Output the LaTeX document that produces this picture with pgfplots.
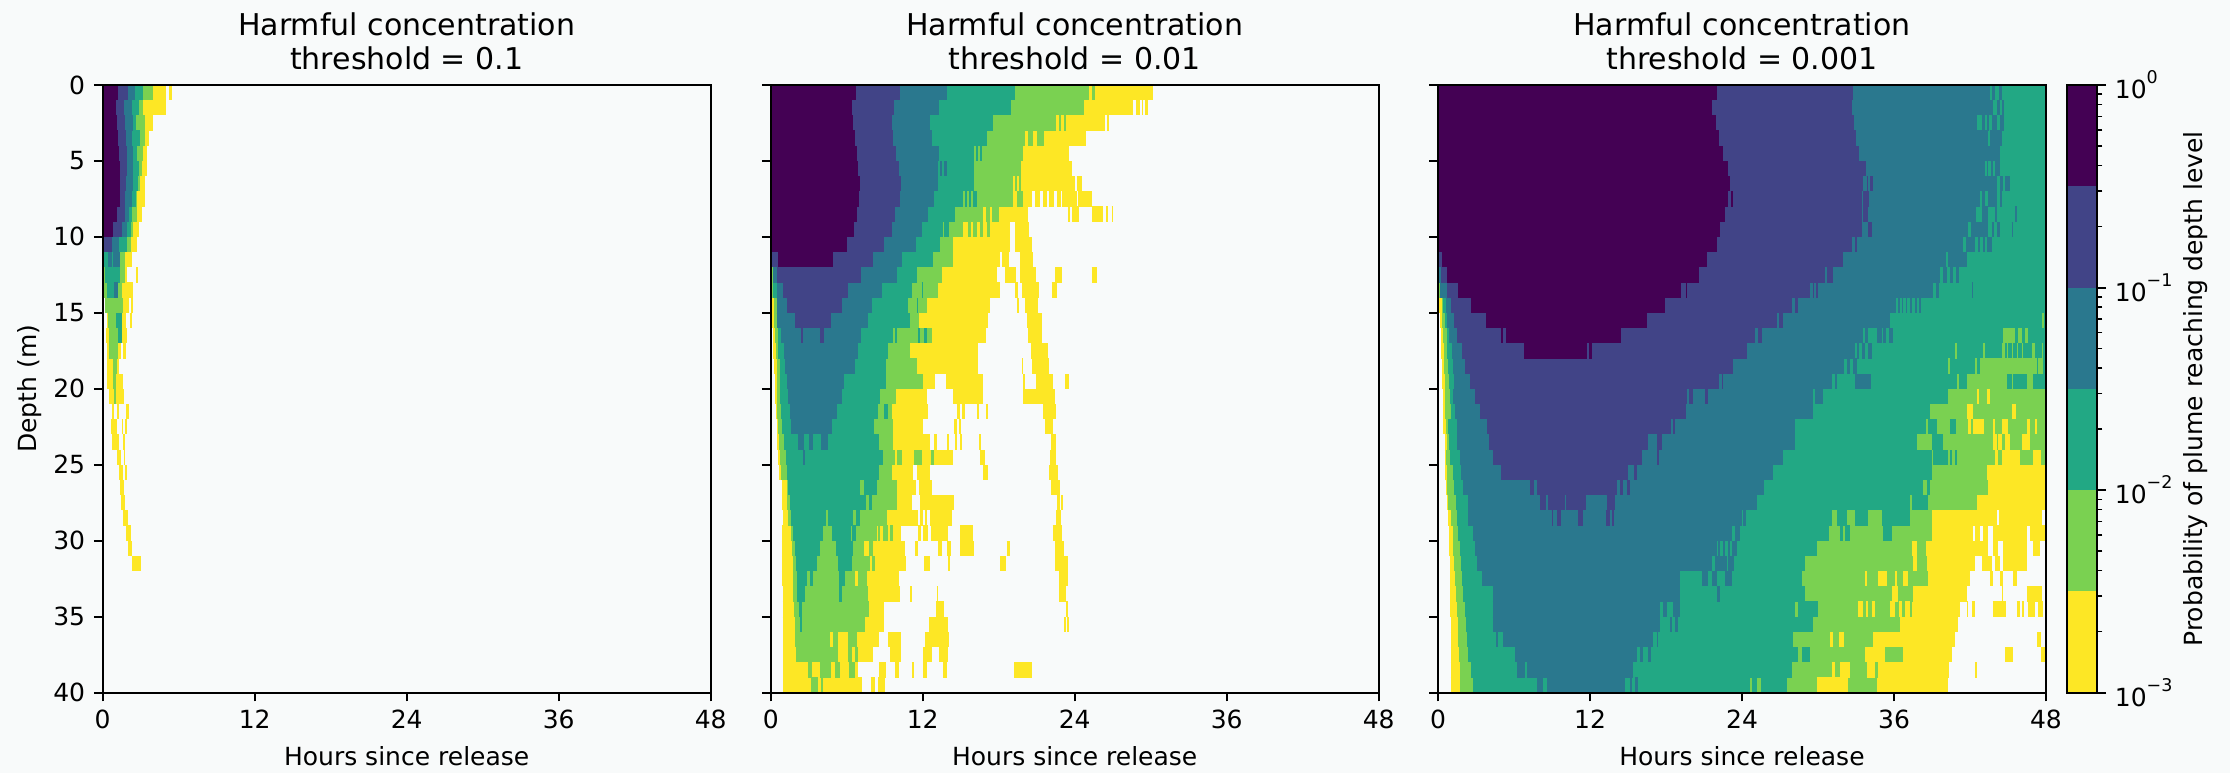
\documentclass[border=0pt]{standalone}
\usepackage{fontspec}
\setmainfont{DejaVu Sans}
\usepackage{pgfplots}
\pgfplotsset{compat=1.18}
\definecolor{bg}{HTML}{F8FAFA}
\definecolor{cP}{HTML}{440154}
\definecolor{cI}{HTML}{414487}
\definecolor{cT}{HTML}{2A788E}
\definecolor{cM}{HTML}{22A884}
\definecolor{cG}{HTML}{7AD151}
\definecolor{cY}{HTML}{FDE725}
\pgfplotsset{
  /pgfplots/table/seg/.style={row sep=\\, header=false, x index=1, y index=0, x error expr=\thisrowno{2}-\thisrowno{1}},
  lev/.style={draw=none, mark=none, forget plot, error bars/.cd, x dir=plus, x explicit, error mark=none, error bar style={line width=6.15pt, color=#1, solid}},
  base/.style={
    scale only axis, width=243.2pt, height=243.1pt, anchor=south west,
    axis on top, xmin=0, xmax=48, ymin=0, ymax=40, y dir=reverse,
    xtick={0,12,24,36,48}, ytick={0,5,...,40},
    xtick pos=lower, ytick pos=left, tick align=outside,
    major tick length=3.5pt, every tick/.style={black, line width=0.8pt},
    axis line style={line width=0.8pt},
    /pgf/number format/assume math mode=true,
    xlabel={Hours since release},
    xlabel style={font=\fontsize{10}{12}\selectfont, at={(axis description cs:0.5,-0.119)}, anchor=base},
    title style={font=\fontsize{12}{13.6}\selectfont, align=center, at={(axis description cs:0.5,1)}, anchor=south, inner sep=0pt, yshift=0pt},
  }
}
\begin{document}
\begin{tikzpicture}
\fill[bg] (0,0) rectangle (892pt,309.2pt);
\useasboundingbox (0,0) rectangle (892pt,309.2pt);
% ------------------------------------------------ threshold 0.1
\begin{axis}[base, at={(41.08pt,32.12pt)}, title={Harmful concentration\\threshold = 0.1},
  ylabel={Depth (m)}, ylabel style={font=\fontsize{10}{12}\selectfont, at={(axis description cs:-0.1097,0.5)}, anchor=base}]
\addplot[lev=cY] table[seg]{
0.5 0 5\\ 0.5 5.26 5.45\\ 1.5 0 5\\ 2.5 0 4\\ 3.5 0 3.66\\ 4.5 0 3.53\\ 5.5 0 3.53\\ 6.5 0 3.34\\ 7.5 0 3.34\\ 8.5 0 3.08\\ 9.5 0 2.87\\
10.5 0.05 2.68\\ 11.5 0.1 2.34\\ 12.5 0.15 1.9\\ 12.5 2.63 2.79\\ 13.5 0.13 2.42\\ 14.5 0.2 2.1\\ 14.5 2.21 2.42\\ 15.5 0.32 1.84\\ 15.5 2.16 2.34\\ 16.5 0.26 1.95\\
17.5 0.32 1.42\\ 17.5 1.63 1.84\\ 18.5 0.32 1.26\\ 19.5 0.32 1.58\\ 20.5 0.53 1.71\\ 21.5 0.71 0.89\\ 21.5 1.11 1.32\\ 21.5 1.84 2.05\\
22.5 0.63 1.11\\ 22.5 1.5 1.63\\ 22.5 1.76 1.95\\ 23.5 0.76 1.32\\ 23.5 1.58 1.74\\ 24.5 1.16 1.45\\ 24.5 1.71 1.79\\ 25.5 1.32 1.58\\ 25.5 1.79 1.95\\
26.5 1.37 1.71\\ 27.5 1.45 1.76\\ 28.5 1.58 2.03\\ 29.5 1.84 2.21\\ 30.5 2 2.34\\ 31.5 2.34 3\\
};
\addplot[lev=cG] table[seg]{
0.5 0 4\\ 1.5 0 3.21\\ 2.5 0 3.34\\ 3.5 0 3.34\\ 4.5 0 3.16\\ 5.5 0 3.08\\ 6.5 0 2.95\\ 7.5 0 2.74\\ 8.5 0 2.74\\ 9.5 0 2.42\\ 10.5 0 2.21\\
11.5 0.05 1.76\\ 12.5 0.13 1.76\\ 13.5 0.13 1.5\\ 14.5 0.21 1.63\\ 15.5 0.45 1.5\\ 16.5 0.53 1.5\\ 17.5 0.53 1.24\\ 18.5 0.84 1.11\\ 19.5 0.84 1.05\\ 20.5 0.89 1.05\\
};
\addplot[lev=cM] table[seg]{
0.5 0 3.21\\ 1.5 0 2.89\\ 2.5 0 2.63\\ 3.5 0 2.95\\ 4.5 0 2.74\\ 5.5 0 2.89\\ 6.5 0 2.82\\ 7.5 0 2.63\\ 8.5 0 2.29\\ 9.5 0 2.21\\ 10.5 0 1.89\\
11.5 0.1 1.37\\ 12.5 0.18 1.37\\ 13.5 0.32 1.24\\ 15.5 1.05 1.5\\ 16.5 1.24 1.5\\
};
\addplot[lev=cT] table[seg]{
0.5 0 2.55\\ 1.5 0 2.29\\ 2.5 0 2.37\\ 3.5 0 2.34\\ 4.5 0 2.42\\ 5.5 0 2.37\\ 6.5 0 2.37\\ 7.5 0 2.29\\ 8.5 0 2.11\\ 9.5 0 1.89\\ 10.5 0 1.32\\
11.5 0.45 0.71\\ 11.5 0.84 1.37\\ 13.5 0.89 1.24\\
};
\addplot[lev=cI] table[seg]{
0.5 0 1.97\\ 1.5 0 1.68\\ 2.5 0 1.76\\ 3.5 0 1.82\\ 4.5 0 1.89\\ 5.5 0 1.89\\ 6.5 0 1.84\\ 7.5 0 1.76\\ 8.5 0 1.76\\ 9.5 0 1.5\\ 10.5 0.05 0.76\\
};
\addplot[lev=cP] table[seg]{
0.5 0 1.24\\ 1.5 0 1.05\\ 2.5 0 1.11\\ 3.5 0 1.18\\ 4.5 0 1.29\\ 5.5 0 1.37\\ 6.5 0 1.37\\ 7.5 0 1.37\\ 8.5 0 1.11\\ 9.5 0 0.84\\
};
\end{axis}
% ------------------------------------------------ threshold 0.01
\begin{axis}[base, at={(308.28pt,32.12pt)}, title={Harmful concentration\\threshold = 0.01}, yticklabels={}]
\addplot[lev=cY] table[seg]{
0.5 0 30.21\\ 1.5 0 28.63\\ 1.5 28.84 29.16\\ 1.5 29.29 29.42\\ 1.5 29.55 29.82\\ 2.5 0 26.39\\ 2.5 26.53 26.71\\ 3.5 0 24.89\\ 4.5 0 23.58\\ 5.5 0 23.76\\
6.5 0 24.03\\ 6.5 24.16 24.55\\ 7.5 0 20.6\\ 7.5 20.87 21.26\\ 7.5 21.53 21.84\\ 7.5 21.97 22.37\\ 7.5 22.58 22.89\\ 7.5 22.97 24.16\\ 7.5 24.29 25.34\\
8.5 0 20.34\\ 8.5 23.5 23.63\\ 8.5 23.76 24.37\\ 8.5 25.34 26.21\\ 8.5 26.47 26.61\\ 8.5 26.92 27.05\\ 9.5 0 18.89\\ 9.5 19.29 20.42\\ 10.5 0 18.89\\ 10.5 19.29 20.6\\
11.5 0 18.11\\ 11.5 18.24 18.84\\ 11.5 19.68 20.74\\ 12.5 0 17.89\\ 12.5 18.5 19.37\\ 12.5 19.68 20.95\\ 12.5 22.45 22.97\\ 12.5 25.34 25.74\\
13.5 0 18.11\\ 13.5 19.29 19.55\\ 13.5 19.82 21.21\\ 13.5 22.18 22.63\\ 14.5 0.11 17.32\\ 14.5 19.47 19.58\\ 14.5 20.08 21.13\\ 15.5 0.11 17.18\\ 15.5 20.21 21.39\\
16.5 0.16 17\\ 16.5 20.34 21.39\\ 17.5 0.21 16.39\\ 17.5 20.53 21.92\\ 18.5 0.26 16.39\\ 18.5 19.82 19.95\\ 18.5 20.66 22\\
19.5 0.32 12.97\\ 19.5 13.84 16.74\\ 19.5 19.95 20.08\\ 19.5 20.95 22.32\\ 19.5 23.24 23.58\\ 20.5 0.37 12.32\\ 20.5 14.42 16.79\\ 20.5 19.95 22.45\\
21.5 0.42 12.39\\ 21.5 14.68 14.95\\ 21.5 15.08 15.34\\ 21.5 16.26 16.45\\ 21.5 16.97 17.18\\ 21.5 21.53 22.53\\
22.5 0.47 12.05\\ 22.5 14.47 14.74\\ 22.5 14.89 15.05\\ 22.5 21.66 22.32\\
23.5 0.53 12.58\\ 23.5 12.89 13.16\\ 23.5 13.95 14.11\\ 23.5 14.55 14.74\\ 23.5 14.95 15.11\\ 23.5 16.47 16.61\\ 23.5 22.11 22.53\\
24.5 0.61 14.37\\ 24.5 16.53 16.95\\ 24.5 22.05 22.53\\ 25.5 0.68 11.26\\ 25.5 11.58 12.58\\ 25.5 16.79 17.18\\ 25.5 22 22.71\\
26.5 0.87 11.47\\ 26.5 11.74 12.74\\ 26.5 22.13 22.84\\ 27.5 0.89 11.13\\ 27.5 11.79 14.47\\ 27.5 22.58 22.84\\ 27.5 22.92 23.11\\
28.5 0.95 11.66\\ 28.5 11.79 12.05\\ 28.5 12.18 12.32\\ 28.5 12.58 14.29\\ 28.5 22.53 22.89\\
29.5 0.89 10.26\\ 29.5 11.66 11.84\\ 29.5 12.05 12.45\\ 29.5 12.66 13.97\\ 29.5 14.95 15.95\\ 29.5 22.26 22.97\\
30.5 0.89 10.61\\ 30.5 11.39 11.61\\ 30.5 13.24 13.5\\ 30.5 13.95 14.24\\ 30.5 14.95 16.05\\ 30.5 18.63 18.89\\ 30.5 22.45 23.16\\
31.5 0.89 10.68\\ 31.5 12.13 12.58\\ 31.5 13.97 14.16\\ 31.5 18.11 18.55\\ 31.5 22.45 23.5\\ 32.5 0.89 10.13\\ 32.5 22.79 23.5\\
33.5 0.95 10.21\\ 33.5 11 11.18\\ 33.5 13.11 13.24\\ 33.5 22.79 23.29\\ 34.5 0.95 8.95\\ 34.5 13.03 13.68\\ 34.5 23.32 23.5\\
35.5 0.95 8.95\\ 35.5 12.5 14.03\\ 35.5 23.18 23.32\\ 35.5 23.39 23.58\\ 36.5 1 8.58\\ 36.5 9.29 10.29\\ 36.5 12.18 14.08\\
37.5 1 8.11\\ 37.5 9.42 10.29\\ 37.5 12.05 12.76\\ 37.5 13.32 14\\ 38.5 1 6.92\\ 38.5 8.58 9.11\\ 38.5 9.82 10.13\\ 38.5 11.13 11.32\\ 38.5 12.05 12.32\\ 38.5 13.63 13.89\\ 38.5 19.21 20.6\\
39.5 1 7.18\\ 39.5 7.89 8.24\\ 39.5 8.5 9.03\\
};
\addplot[lev=cG] table[seg]{
0.5 0 25.13\\ 0.5 25.39 25.61\\ 1.5 0 24.74\\ 2.5 0 22.53\\ 2.5 22.76 22.92\\ 2.5 23.16 23.29\\ 3.5 0 20.08\\ 3.5 20.34 20.68\\ 3.5 21 21.58\\ 4.5 0 19.95\\ 5.5 0 19.74\\
6.5 0 19.16\\ 6.5 19.32 19.45\\ 6.5 19.63 19.74\\ 7.5 0 19.16\\ 7.5 19.42 19.95\\ 8.5 0 16.79\\ 8.5 16.97 17.32\\ 8.5 17.5 18\\
9.5 0 15.21\\ 9.5 15.61 15.79\\ 9.5 16 16.26\\ 9.5 16.53 16.79\\ 9.5 17.05 17.32\\ 10.5 0 14.37\\ 11.5 0 14.37\\ 12.5 0.08 13.5\\ 13.5 0.13 13.24\\
14.5 0.26 12.32\\ 15.5 0.26 11.74\\ 16.5 0.34 12.71\\ 17.5 0.42 11\\ 18.5 0.47 11.53\\ 19.5 0.47 12.05\\ 20.5 0.47 9.89\\ 21.5 0.53 9.55\\ 22.5 0.61 9.63\\ 23.5 0.68 9.68\\
24.5 0.74 9.82\\ 24.5 10 10.39\\ 24.5 11.32 11.97\\ 24.5 12.63 12.89\\ 25.5 0.79 9.55\\ 26.5 1.32 9.95\\ 27.5 1.32 9.95\\ 28.5 1.39 9.16\\
29.5 1.58 8.37\\ 29.5 8.5 8.63\\ 29.5 8.89 9.29\\ 29.5 9.42 9.68\\ 30.5 1.66 7.37\\ 30.5 7.79 8.11\\ 31.5 1.74 7.84\\ 31.5 7.97 8.24\\
32.5 1.79 6.66\\ 32.5 6.92 7.63\\ 33.5 1.79 7.71\\ 34.5 1.87 7.79\\ 35.5 1.92 7.45\\ 36.5 1.92 4.68\\ 36.5 4.95 5.34\\ 36.5 6.13 6.79\\
37.5 2 5.34\\ 37.5 6.13 6.39\\ 37.5 6.66 6.92\\ 38.5 2.97 3.24\\ 38.5 3.89 4.74\\ 38.5 5.08 5.47\\ 38.5 6.21 6.66\\ 39.5 3.16 3.76\\ 39.5 3.95 4.16\\
};
\addplot[lev=cM] table[seg]{
0.5 0 19.29\\ 1.5 0 18.97\\ 2.5 0 17.58\\ 3.5 0 17.05\\ 4.5 0 16.05\\ 4.5 16.21 16.34\\ 4.5 16.53 16.66\\ 5.5 0 16.05\\ 6.5 0 16.05\\ 7.5 0 15.16\\ 7.5 15.34 15.47\\ 7.5 15.68 15.79\\ 7.5 16 16.26\\
8.5 0 14.55\\ 9.5 0 13.58\\ 9.5 13.71 14.05\\ 10.5 0 13.37\\ 11.5 0 12.79\\ 12.5 0.16 11.58\\ 13.5 0.21 11.18\\ 13.5 11.92 12.05\\ 14.5 0.47 10.87\\ 14.5 11.53 11.65\\ 15.5 0.47 11\\
16.5 0.61 9.68\\ 16.5 9.82 10\\ 16.5 11.6 11.75\\ 16.5 12.13 12.3\\ 17.5 0.61 9.29\\ 18.5 0.74 9.11\\ 19.5 0.74 9.11\\ 20.5 0.74 8.63\\ 21.5 0.79 8.5\\ 21.5 8.95 9.29\\ 22.5 0.87 8.16\\ 23.5 1.05 8.58\\
24.5 1.21 8.89\\ 25.5 1.32 8.58\\ 26.5 1.39 7.05\\ 26.5 7.37 8.42\\ 27.5 1.53 7.53\\ 27.5 7.79 8\\ 28.5 1.58 4.37\\ 28.5 4.5 6.53\\ 28.5 6.74 7.05\\ 29.5 1.79 4.11\\ 29.5 4.82 6.32\\ 29.5 6.39 6.74\\
30.5 1.92 3.89\\ 30.5 5.16 6.53\\ 31.5 2 3.68\\ 31.5 5.34 6.39\\ 32.5 2.05 2.84\\ 32.5 3.11 3.32\\ 32.5 5.42 5.87\\ 33.5 2.11 2.71\\ 33.5 5.42 5.61\\ 34.5 2.26 2.45\\ 35.5 2.32 2.47\\
};
\addplot[lev=cT] table[seg]{
0.5 0 13.89\\ 1.5 0 13.32\\ 2.5 0 12.58\\ 3.5 0 12.71\\ 4.5 0 13.32\\ 5.5 0 13.18\\ 5.5 13.37 13.55\\ 5.5 13.68 13.89\\ 6.5 0 13.18\\ 7.5 0 12.89\\ 8.5 0 12.39\\ 9.5 0 11.97\\ 10.5 0 11.47\\ 11.5 0 10.39\\
12.5 0.21 9.95\\ 13.5 0.53 8.82\\ 14.5 0.47 7.97\\ 15.5 0.47 7.66\\ 16.5 0.8 7.13\\ 17.5 1.05 6.92\\ 18.5 1.13 6.66\\ 19.5 1.26 5.82\\ 20.5 1.39 5.61\\ 21.5 1.53 5.26\\ 22.5 1.58 4.82\\
23.5 2.13 2.63\\ 23.5 3.05 3.32\\ 23.5 3.95 4.55\\ 24.5 2.53 2.71\\
};
\addplot[lev=cI] table[seg]{
0.5 0 10.21\\ 1.5 0 9.74\\ 2.5 0 9.6\\ 3.5 0 9.68\\ 4.5 0 9.9\\ 5.5 0 10.16\\ 6.5 0 10.29\\ 7.5 0 10.21\\ 8.5 0 9.82\\ 9.5 0 9.6\\ 10.5 0 8.95\\ 11.5 0 8.1\\
12.5 0.53 7.13\\ 13.5 1 6.13\\ 14.5 1.26 5.66\\ 15.5 1.92 4.74\\ 16.5 2.37 2.58\\ 16.5 3.89 4.21\\
};
\addplot[lev=cP] table[seg]{
0.5 0 6.74\\ 1.5 0 6.39\\ 2.5 0 6.53\\ 3.5 0 6.66\\ 4.5 0 6.84\\ 5.5 0 6.92\\ 6.5 0 7.05\\ 7.5 0 6.97\\ 8.5 0 6.84\\ 9.5 0 6.6\\ 10.5 0 6\\ 11.5 0.6 4.95\\
};
\end{axis}
% ------------------------------------------------ threshold 0.001
\begin{axis}[base, at={(575.2pt,32.12pt)}, title={Harmful concentration\\threshold = 0.001}, yticklabels={}]
\addplot[lev=cY] table[seg]{
14.5 0.1 2\\ 15.5 0.16 2\\ 16.5 0.21 2\\ 17.5 0.26 2\\ 18.5 0.29 2\\ 19.5 0.34 2\\ 20.5 0.37 2\\ 21.5 0.37 2\\ 22.5 0.37 2\\ 23.5 0.53 2\\ 24.5 0.53 2\\
25.5 0.58 48\\ 26.5 0.6 48\\ 27.5 0.68 48\\ 28.5 0.82 44.11\\ 28.5 44.32 47.66\\ 29.5 0.89 42.26\\ 29.5 42.39 42.79\\ 29.5 43.05 43.45\\ 29.5 43.79 46.47\\ 29.5 46.74 48\\
30.5 0.89 43.45\\ 30.5 43.84 44.24\\ 30.5 44.63 46.47\\ 30.5 47 47.5\\ 31.5 0.92 42.4\\ 31.5 42.92 43.71\\ 31.5 43.97 44.37\\ 31.5 44.63 46.47\\
32.5 0.95 42\\ 32.5 43.58 43.79\\ 32.5 44.37 44.63\\ 32.5 45.42 45.68\\ 33.5 0.95 41.74\\ 33.5 44.5 44.63\\ 33.5 46.47 47.66\\
34.5 0.97 41.21\\ 34.5 41.74 41.87\\ 34.5 42.13 42.4\\ 34.5 43.79 44.84\\ 34.5 45.68 45.95\\ 34.5 46.08 46.26\\ 34.5 46.61 47.13\\ 34.5 47.39 47.79\\
35.5 1 41.08\\ 36.5 1 40.82\\ 36.5 47.32 47.58\\ 37.5 1 40.55\\ 37.5 44.76 45.42\\ 37.5 47.58 47.92\\ 38.5 1 40.34\\ 38.5 42.39 42.53\\ 39.5 1 40.29\\
};
\addplot[lev=cG] table[seg]{
13.5 0 2\\ 14.5 0.29 2\\ 15.5 0.32 2\\ 16.5 0.42 2\\ 17.5 0.47 2\\ 18.5 0.47 2\\ 19.5 0.53 2\\ 20.5 0.58 48\\ 21.5 0.58 48\\ 22.5 0.63 48\\ 23.5 0.68 48\\ 24.5 0.63 48\\
25.5 0.68 43.32\\ 26.5 0.74 43.45\\ 27.5 0.82 42.53\\ 28.5 1 38.97\\ 29.5 1.16 38.97\\ 30.5 1.21 38.53\\ 31.5 1.26 38.58\\ 32.5 1.34 38.71\\ 33.5 1.42 37.53\\ 34.5 1.47 37.4\\ 35.5 1.6 36.47\\ 36.5 1.6 34.37\\
37.5 1.68 33.71\\ 37.5 35.29 36.74\\ 38.5 1.74 34.76\\ 39.5 1.74 34.68\\
};
% yellow cells lying inside the green region
\addplot[lev=cY] table[seg]{
20.5 42.53 42.71\\ 20.5 43.32 43.58\\ 21.5 41.74 42.2\\ 21.5 45.29 45.63\\ 22.5 41.87 42.05\\ 22.5 42.26 43.13\\ 22.5 43.84 43.97\\ 22.5 44.5 45.03\\ 22.5 46.47 46.74\\ 22.5 47.13 47.26\\
23.5 43.84 44.11\\ 23.5 44.24 44.5\\ 23.5 44.76 45.16\\ 23.5 46.08 46.74\\ 24.5 43.97 44.24\\ 24.5 44.5 45.95\\ 24.5 47 47.58\\
30.5 37.4 37.79\\ 31.5 37.53 37.79\\ 32.5 33.71 33.84\\ 32.5 34.76 35.42\\ 32.5 36.08 36.21\\ 32.5 36.74 37.13\\ 33.5 35.82 36.34\\
34.5 33.18 33.58\\ 34.5 33.79 33.97\\ 34.5 34.24 34.5\\ 34.5 35.68 36.08\\ 34.5 36.42 36.61\\ 34.5 36.87 37.26\\
36.5 30.95 31.21\\ 36.5 31.68 32.05\\ 38.5 31.08 31.34\\ 38.5 31.74 32.53\\ 38.5 33.84 34.5\\ 39.5 29.9 32.4\\
};
\addplot[lev=cM] table[seg]{
0.5 0 48\\ 1.5 0 48\\ 2.5 0 48\\ 3.5 0 48\\ 4.5 0 48\\ 5.5 0 48\\ 6.5 0 48\\ 7.5 0 48\\ 8.5 0 48\\ 9.5 0 48\\ 10.5 0 48\\ 11.5 0 48\\ 12.5 0 48\\ 13.5 0.16 48\\ 14.5 0.37 48\\ 15.5 0.53 48\\ 16.5 0.68 48\\ 17.5 0.74 48\\ 18.5 0.76 48\\ 19.5 0.89 48\\
20.5 0.95 40.24\\ 21.5 1 38.84\\ 22.5 0.82 38.53\\ 22.5 38.71 39.37\\ 22.5 40.42 40.9\\ 23.5 0.89 37.79\\ 23.5 38.97 39.9\\ 24.5 0.95 38.97\\ 24.5 39.11 40.29\\ 24.5 40.42 40.55\\ 24.5 40.82 40.95\\
25.5 1.16 38.97\\ 26.5 1.26 38.32\\ 26.5 38.58 38.84\\ 27.5 1.42 37.26\\ 27.5 37.39 38.71\\ 28.5 1.47 31.08\\ 28.5 31.53 32.26\\ 28.5 32.92 33.97\\ 28.5 35.03 37.26\\
29.5 1.6 30.9\\ 29.5 31.74 31.95\\ 29.5 32.13 32.53\\ 29.5 35.16 35.82\\ 30.5 1.74 29.9\\ 31.5 1.79 28.97\\ 32.5 1.87 28.71\\ 33.5 2 28.97\\ 34.5 2.13 28.18\\ 34.5 28.45 29.97\\
35.5 2.18 29.58\\ 36.5 2.26 28\\ 37.5 2.39 28.45\\ 37.5 28.7 29.37\\ 38.5 2.58 27.92\\ 39.5 2.79 24.63\\ 39.5 24.76 25.16\\ 39.5 25.47 27.53\\
};
% green cells lying inside the region of the next level up
\addplot[lev=cG] table[seg]{
15.5 47.66 47.84\\ 16.5 44.63 45.55\\ 16.5 45.82 46.08\\ 16.5 46.34 46.61\\ 17.5 40.82 40.95\\ 17.5 43.05 43.18\\ 17.5 44.5 44.76\\ 17.5 44.89 45.03\\ 17.5 45.29 45.42\\ 17.5 45.68 45.82\\ 17.5 46.08 46.21\\ 17.5 46.87 47.13\\ 17.5 47.66 47.79\\
18.5 40.29 40.42\\ 18.5 42.39 42.53\\ 18.5 42.79 47.26\\ 18.5 47.39 47.79\\ 19.5 40.95 41.16\\ 19.5 41.74 44.89\\ 19.5 45.29 45.42\\ 19.5 46.47 47\\
};
\addplot[lev=cT] table[seg]{
0.5 0 43.58\\ 0.5 43.71 43.97\\ 0.5 44.32 44.5\\ 1.5 0 43.79\\ 1.5 44.11 44.37\\ 1.5 44.5 44.71\\ 2.5 0 42.53\\ 2.5 42.92 43.18\\ 2.5 43.37 43.53\\ 2.5 43.71 44.11\\ 2.5 44.37 44.68\\ 3.5 0 43.45\\ 3.5 43.58 44.5\\ 4.5 0 44.37\\
5.5 0 43.18\\ 5.5 43.32 43.45\\ 5.5 43.63 43.79\\ 5.5 43.97 44.37\\ 6.5 0 44.11\\ 6.5 44.37 44.58\\ 6.5 44.76 45.16\\ 7.5 0 42.79\\ 7.5 42.92 43.18\\ 7.5 43.45 44.11\\ 7.5 44.37 44.5\\
8.5 0 42.47\\ 8.5 42.92 43.45\\ 8.5 43.97 44.16\\ 8.5 45.55 45.68\\ 9.5 0 41.87\\ 9.5 42.05 43.45\\ 9.5 43.71 43.89\\ 9.5 44.11 44.37\\ 9.5 45.29 45.42\\
10.5 0 41.47\\ 10.5 41.66 42.4\\ 10.5 42.66 42.79\\ 10.5 43 43.18\\ 10.5 43.32 43.71\\ 11.5 0 40.11\\ 11.5 40.29 41.74\\ 12.5 0.1 39.63\\ 12.5 39.9 40.16\\ 12.5 40.42 40.68\\ 12.5 40.9 41.16\\
13.5 0.16 39.11\\ 13.5 39.32 39.58\\ 13.5 42.18 42.26\\ 14.5 0.63 36.16\\ 14.5 36.34 36.47\\ 14.5 36.61 36.74\\ 14.5 36.95 37.05\\ 14.5 37.26 37.39\\ 14.5 37.66 37.79\\ 14.5 37.97 38.11\\
15.5 0.74 35.68\\ 16.5 0.89 33.58\\ 16.5 33.71 33.97\\ 16.5 34.68 35.03\\ 16.5 35.16 35.37\\ 16.5 35.63 35.9\\ 17.5 1.08 32.92\\ 17.5 33.05 33.26\\ 17.5 33.45 33.71\\ 17.5 33.97 34.24\\
18.5 1.21 32.05\\ 18.5 32.26 32.53\\ 18.5 32.79 33.11\\ 19.5 1.26 31.08\\ 19.5 31.34 31.47\\ 19.5 32.92 34.16\\ 20.5 1.21 29.63\\ 20.5 29.76 30.42\\ 21.5 1.34 29.58\\ 22.5 1.47 28.18\\ 23.5 1.53 28.18\\ 24.5 1.74 27.26\\ 25.5 1.79 26.47\\ 26.5 2 25.74\\ 27.5 2.39 25.16\\
28.5 2.39 23.97\\ 28.5 24.05 24.32\\ 29.5 2.79 23.18\\ 29.5 23.45 23.84\\ 30.5 2.92 22\\ 30.5 22.13 22.26\\ 30.5 22.53 22.66\\ 30.5 22.92 23.05\\ 30.5 23.18 23.58\\ 31.5 3.11 21.61\\ 31.5 21.87 22.79\\ 31.5 22.92 23.37\\
32.5 3.45 19.11\\ 32.5 3.71 3.97\\ 32.5 20.82 21.34\\ 32.5 21.61 22\\ 32.5 22.66 23.18\\ 33.5 4.32 19.11\\ 33.5 22 22.26\\ 34.5 4.32 17.53\\ 34.5 17.79 18.05\\ 34.5 18.58 19.11\\ 35.5 4.32 17.53\\ 35.5 18.32 18.45\\ 35.5 18.71 18.97\\
36.5 5.11 16.95\\ 36.5 4.58 4.74\\ 36.5 17.26 17.39\\ 37.5 6.08 15.68\\ 37.5 15.95 16.21\\ 37.5 16.61 16.79\\ 38.5 6.26 6.87\\ 38.5 7.05 15.42\\ 39.5 7.79 8.32\\ 39.5 8.63 14.76\\ 39.5 15.16 15.29\\ 39.5 15.55 15.82\\
};
\addplot[lev=cI] table[seg]{
0.5 0 32.79\\ 1.5 0 32.66\\ 2.5 0 32.84\\ 3.5 0 33\\ 4.5 0 33.26\\ 5.5 0 33.79\\ 6.5 0 33.58\\ 6.5 33.84 33.97\\ 6.5 34.11 34.32\\ 7.5 0 33.45\\ 7.5 33.58 34.03\\ 8.5 0 33.45\\ 8.5 33.58 33.97\\ 9.5 0 33.45\\ 9.5 33.97 34.24\\ 10.5 0 32.66\\ 10.5 32.92 33.11\\
11.5 0 31.95\\ 12.5 0.24 30.55\\ 12.5 30.69 31.21\\ 13.5 0.74 29.37\\ 13.5 29.58 29.68\\ 13.5 29.84 30.03\\ 14.5 1 27.92\\ 14.5 28.18 28.45\\ 15.5 1.26 26.74\\ 15.5 26.95 27.26\\ 16.5 1.53 25.03\\ 16.5 25.29 25.55\\ 17.5 1.92 24.42\\ 18.5 2.13 23.26\\ 19.5 2.53 22.21\\ 19.5 22.39 22.53\\
20.5 2.92 19.68\\ 20.5 19.84 20.11\\ 20.5 21.08 21.34\\ 21.5 3.32 19.55\\ 22.5 3.89 18.37\\ 22.5 18.53 18.71\\ 23.5 4.05 16.61\\ 23.5 17.32 17.66\\ 24.5 4.32 16.08\\ 24.5 17.32 17.47\\ 25.5 4.95 15.03\\ 25.5 15.47 15.68\\
26.5 7.26 7.58\\ 26.5 7.79 14.16\\ 26.5 14.37 14.63\\ 26.5 14.89 15.16\\ 27.5 8.05 8.53\\ 27.5 8.71 10.03\\ 27.5 10.11 11.66\\ 27.5 13.32 13.97\\ 28.5 8.97 9.11\\ 28.5 9.42 9.68\\ 28.5 11.08 11.47\\ 28.5 13.24 13.58\\ 28.5 13.76 13.92\\
};
\addplot[lev=cP] table[seg]{
0.5 0 22\\ 1.5 0 21.6\\ 2.5 0 21.95\\ 3.5 0 22\\ 3.5 22.05 22.18\\ 4.5 0 22.53\\ 5.5 0 22.92\\ 6.5 0 23.05\\ 7.5 0 22.92\\ 7.5 23.13 23.26\\ 8.5 0 22.66\\ 9.5 0 22.26\\ 10.5 0 22\\ 11.5 0.29 21.21\\ 12.5 0.74 20.63\\
13.5 1.61 19.16\\ 13.5 19.55 19.66\\ 14.5 2.58 17.92\\ 15.5 3.79 16.53\\ 16.5 4.95 5.16\\ 16.5 5.37 14.42\\ 17.5 6.79 11.79\\ 17.5 11.95 12.13\\
};
\end{axis}
% ------------------------------------------------ colour bar
\begin{axis}[scale only axis, width=12pt, height=243.1pt, anchor=south west, at={(826.92pt,32.12pt)},
  axis on top, xmin=0, xmax=1, ymode=log, ymin=1e-3, ymax=1, xtick=\empty,
  ytick pos=right, yticklabel pos=right, tick align=outside,
  major tick length=3.5pt, minor tick length=2pt,
  every tick/.style={black, line width=0.8pt}, every minor tick/.style={black, line width=0.6pt},
  axis line style={line width=0.8pt},
  ytick={0.001,0.01,0.1,1},
  minor ytick={0.002,0.003,0.004,0.005,0.006,0.007,0.008,0.009,0.02,0.03,0.04,0.05,0.06,0.07,0.08,0.09,0.2,0.3,0.4,0.5,0.6,0.7,0.8,0.9},
  yticklabels={10\raisebox{1.1ex}{\fontsize{7}{8}\selectfont −3},10\raisebox{1.1ex}{\fontsize{7}{8}\selectfont −2},10\raisebox{1.1ex}{\fontsize{7}{8}\selectfont −1},10\raisebox{1.1ex}{\fontsize{7}{8}\selectfont 0}},
  ylabel={Probability of plume reaching depth level},
  ylabel style={font=\fontsize{10}{12}\selectfont, at={(axis description cs:4.52,0.5)}, anchor=base}]
\addplot[fill=cY, draw=none, forget plot] coordinates {(0,0.001)(1,0.001)(1,0.003162)(0,0.003162)} --cycle;
\addplot[fill=cG, draw=none, forget plot] coordinates {(0,0.003162)(1,0.003162)(1,0.01)(0,0.01)} --cycle;
\addplot[fill=cM, draw=none, forget plot] coordinates {(0,0.01)(1,0.01)(1,0.03162)(0,0.03162)} --cycle;
\addplot[fill=cT, draw=none, forget plot] coordinates {(0,0.03162)(1,0.03162)(1,0.1)(0,0.1)} --cycle;
\addplot[fill=cI, draw=none, forget plot] coordinates {(0,0.1)(1,0.1)(1,0.3162)(0,0.3162)} --cycle;
\addplot[fill=cP, draw=none, forget plot] coordinates {(0,0.3162)(1,0.3162)(1,1)(0,1)} --cycle;
\end{axis}
\end{tikzpicture}
\end{document}
